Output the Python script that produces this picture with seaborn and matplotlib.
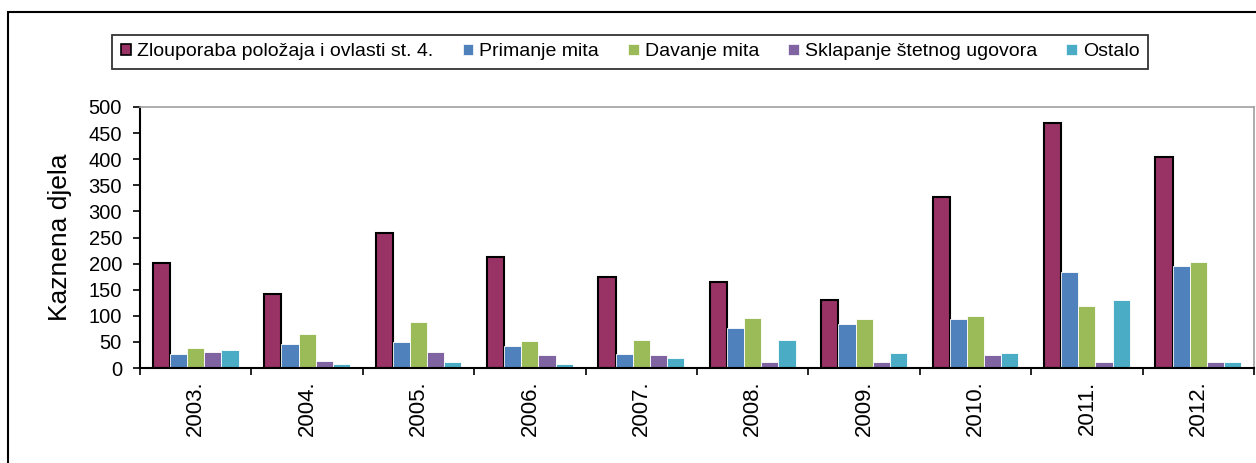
import pandas as pd
import numpy as np
import matplotlib
matplotlib.use("Agg")
import matplotlib.pyplot as plt
import seaborn as sns
from matplotlib.patches import Rectangle

# data
years = ["2003.", "2004.", "2005.", "2006.", "2007.", "2008.", "2009.", "2010.", "2011.", "2012."]
categories = ["Zlouporaba položaja i ovlasti st. 4.", "Primanje mita", "Davanje mita",
              "Sklapanje štetnog ugovora", "Ostalo"]
zlouporaba = [201, 141, 259, 213, 175, 164, 130, 328, 469, 404]
primanje = [27, 46, 50, 43, 27, 77, 85, 93, 184, 195]
davanje = [39, 66, 89, 51, 54, 96, 93, 100, 119, 203]
sklapanje = [31, 13, 31, 24, 24, 12, 12, 24, 12, 12]
ostalo = [35, 8, 12, 8, 20, 54, 28, 28, 131, 12]
colors = ["#993366", "#4F81BD", "#9BBB59", "#8064A2", "#4BACC6"]

series = [zlouporaba, primanje, davanje, sklapanje, ostalo]
rows = []
for cat, vals in zip(categories, series):
    for y, v in zip(years, vals):
        rows.append({"godina": y, "kategorija": cat, "broj": v})
df = pd.DataFrame(rows)

sns.set_style("white")
plt.rcParams['font.family'] = ['Liberation Sans', 'DejaVu Sans']
plt.rcParams.update({"text.color": "black", "axes.labelcolor": "black",
                     "xtick.color": "black", "ytick.color": "black"})

fig = plt.figure(figsize=(12.56, 4.63), dpi=100)
ax = fig.add_axes([140 / 1256, 1 - 368 / 463, 1114 / 1256, 261 / 463])

sns.barplot(data=df, x="godina", y="broj", hue="kategorija", palette=colors,
            width=0.77, saturation=1, ax=ax, edgecolor="white", linewidth=0.6,
            errorbar=None)

for p in ax.containers[0]:
    p.set_edgecolor("black")
    p.set_linewidth(1.5)

ax.get_legend().remove()

ax.set_ylim(0, 500)
ax.set_xlim(-0.5, len(years) - 0.5)
ax.set_yticks(np.arange(0, 501, 50))
ax.tick_params(axis="y", which="major", direction="out", length=5, width=1.2,
               color="black", labelsize=14.5, pad=8, left=True)
ax.tick_params(axis="x", which="major", length=0, labelsize=16, rotation=90, pad=9)
ax.set_xticks(np.arange(-0.5, len(years), 1.0), minor=True)
ax.tick_params(axis="x", which="minor", direction="out", length=5, width=1.2,
               color="black", bottom=True)
ax.set_xlabel("")
ax.set_ylabel("Kaznena djela", fontsize=19, labelpad=12)

for s in ["left", "bottom"]:
    ax.spines[s].set_color("black")
    ax.spines[s].set_linewidth(1.5)
for s in ["top", "right"]:
    ax.spines[s].set_color("#A0A0A0")
    ax.spines[s].set_linewidth(1.2)

# legend in a box above the plot
handles = []
for i, c in enumerate(colors):
    if i == 0:
        handles.append(Rectangle((0, 0), 1, 1, facecolor=c, edgecolor="black", linewidth=1.2))
    else:
        handles.append(Rectangle((0, 0), 1, 1, facecolor=c, edgecolor="white", linewidth=0.5))
leg = fig.legend(handles, categories, loc="center", ncol=5,
                 bbox_to_anchor=((107 + 1153) / 2 / 1256, 1 - 52 / 463),
                 frameon=True, fancybox=False, edgecolor="black", fontsize=14,
                 handlelength=0.55, handleheight=0.55, handletextpad=0.3,
                 columnspacing=1.5, borderpad=0.45)
leg.get_frame().set_linewidth(1.3)

# outer chart frame
fig.add_artist(Rectangle((8 / 1256, -0.05), 1.1, 1 - 12 / 463 + 0.05,
                         transform=fig.transFigure, fill=False,
                         edgecolor="black", linewidth=1.5))

fig.savefig("out.png", dpi=100)
